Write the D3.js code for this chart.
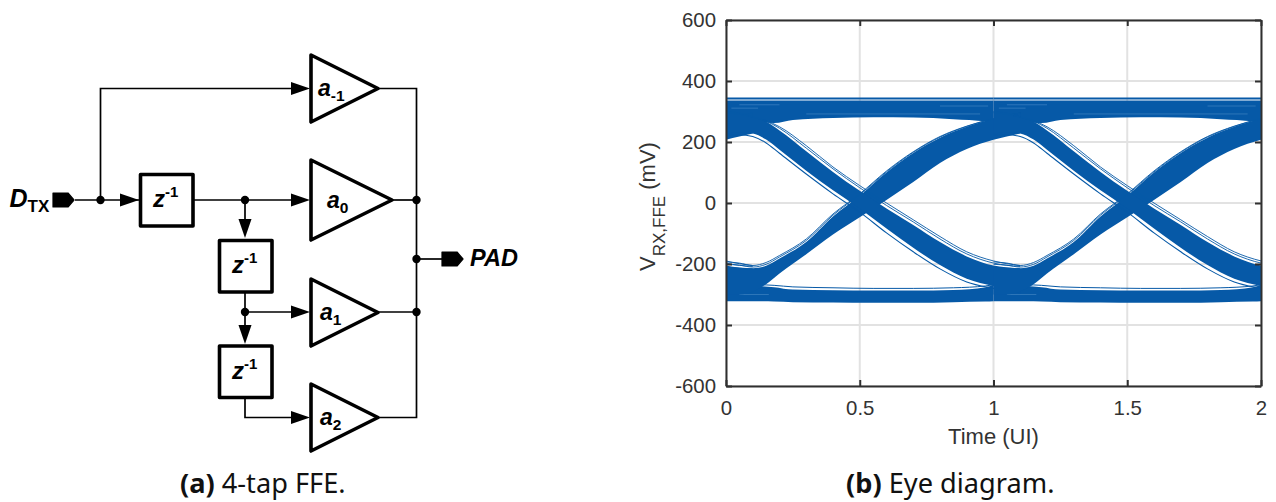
<!DOCTYPE html>
<html>
<head>
<meta charset="utf-8">
<script src="https://cdn.jsdelivr.net/npm/d3@7"></script>
<style>
  html, body { margin: 0; padding: 0; background: #fff; }
  svg { display: block; }
  .caption { font-family: "Noto Sans", "Open Sans", sans-serif; font-size: 27.2px; fill: #111; }
  .sch { font-family: "Liberation Sans", Arial, sans-serif; font-weight: bold; font-style: italic; fill: #000; }
  .tick text, .axlabel { font-family: "Liberation Sans", Arial, sans-serif; fill: #333; }
</style>
</head>
<body>
<div id="chart"></div>
<script>
// eye diagram values (mV)
const xTicks = [0, 0.5, 1, 1.5, 2];
const yTicks = [-600, -400, -200, 0, 200, 400, 600];
const uiOffsets = [-1, 0, 1];

// time grid for the rising and falling bundles (UI)
const edgeTime = [0, 0.05, 0.1, 0.15, 0.2, 0.3, 0.4, 0.5, 0.6, 0.7, 0.8, 0.9, 1.0, 1.1];

const riseBandTop = [-210, -212, -214, -206, -182, -128, -44, 24, 100, 164, 214, 250, 276, 295];
const riseBandBottom = [-300, -300, -290, -266, -231, -168, -103, -47, 10, 69, 131, 177, 207, 228];
const riseOuter = [-193, -197, -205, -195, -172, -118, -36, 30, 105, 168, 218, 252, 277, 295];
const riseMid = [-201, -204, -210, -201, -177, -123, -40, 27, 102, 166, 216, 251, 276, 295];

const fallBandTop = [300, 295, 280, 266, 238, 170, 102, 40, -18, -72, -128, -175, -205, -214];
const fallBandBottom = [228, 232, 228, 208, 175, 106, 42, -18, -84, -147, -203, -248, -272, -290];
const fallOuter = [300, 295, 282, 270, 250, 188, 118, 57, 0, -55, -110, -160, -190, -205];
const fallMid = [296, 291, 281, 268, 245, 180, 112, 50, -8, -62, -118, -167, -197, -208];
const fallInner = [222, 224, 218, 197, 163, 95, 30, -30, -98, -160, -216, -259, -280, -295];

// the two flat rails
const railTime = [0, 0.12, 0.18, 0.25, 0.4, 0.55, 0.7, 0.85, 0.97, 1.0];
const topRailUpper = [336, 336, 336, 336, 336, 336, 336, 336, 336, 336];
const topRailLower = [265, 265, 262, 272, 279, 281, 280, 275, 268, 265];
const topRailLine = [343, 343, 343, 343, 343, 343, 343, 343, 343, 343];
const botRailUpper = [-268, -272, -276, -284, -286, -287, -287, -285, -276, -268];
const botRailLower = [-322, -322, -323, -325, -326, -327, -327, -325, -323, -322];
const botRailLine = [-268, -268, -270, -275, -278, -280, -280, -278, -272, -268];

// pale gaps inside the rails: start, end, level
const railGapStart = [0.02, 0.3, 0.05, 0.8, 0.05];
const railGapEnd = [0.12, 0.95, 0.2, 0.98, 0.16];
const railGapLevel = [311, 292, 322, 318, -300];

// schematic parts
const delayLabels = ["z", "z", "z"];
const tapLabels = ["a", "a", "a", "a"];
const tapSubs = ["-1", "0", "1", "2"];

const WIDTH = 1276, HEIGHT = 502;
const PLOT = { left: 726, right: 1261, top: 20, bottom: 386 };
const BLUE = "#0659a7";

const svg = d3.select("#chart").append("svg")
  .attr("width", WIDTH)
  .attr("height", HEIGHT);

const xScale = d3.scaleLinear().domain([0, 2]).range([PLOT.left, PLOT.right]);
const yScale = d3.scaleLinear().domain([-600, 600]).range([PLOT.bottom, PLOT.top]);

function buildEye() {
  svg.append("clipPath").attr("id", "plotclip").append("rect")
    .attr("x", PLOT.left).attr("y", PLOT.top)
    .attr("width", PLOT.right - PLOT.left).attr("height", PLOT.bottom - PLOT.top);

  // grid
  const grid = svg.append("g").attr("stroke", "#e2e2e2").attr("stroke-width", 2);
  grid.selectAll("line.gx").data(xTicks).enter().append("line")
    .attr("x1", d => xScale(d)).attr("x2", d => xScale(d))
    .attr("y1", PLOT.top).attr("y2", PLOT.bottom);
  grid.selectAll("line.gy").data(yTicks).enter().append("line")
    .attr("y1", d => yScale(d)).attr("y2", d => yScale(d))
    .attr("x1", PLOT.left).attr("x2", PLOT.right);

  const traces = svg.append("g").attr("clip-path", "url(#plotclip)");

  function addBand(times, upper, lower, offset) {
    const area = d3.area()
      .x(i => xScale(times[i] + offset))
      .y0(i => yScale(lower[i]))
      .y1(i => yScale(upper[i]))
      .curve(d3.curveMonotoneX);
    traces.append("path").attr("d", area(d3.range(times.length))).attr("fill", BLUE);
  }
  function addTrace(times, values, offset, width) {
    const line = d3.line()
      .x(i => xScale(times[i] + offset))
      .y(i => yScale(values[i]))
      .curve(d3.curveMonotoneX);
    traces.append("path").attr("d", line(d3.range(times.length)))
      .attr("fill", "none").attr("stroke", BLUE).attr("stroke-width", width);
  }

  uiOffsets.forEach(off => {
    addBand(railTime, topRailUpper, topRailLower, off);
    addBand(railTime, botRailUpper, botRailLower, off);
    addTrace(railTime, topRailLine, off, 2);
    addTrace(railTime, botRailLine, off, 1);
    railGapLevel.forEach((v, i) => {
      traces.append("line")
        .attr("x1", xScale(railGapStart[i] + off)).attr("x2", xScale(railGapEnd[i] + off))
        .attr("y1", yScale(v)).attr("y2", yScale(v))
        .attr("stroke", "#3f82c2").attr("stroke-width", 0.7);
    });
  });
  uiOffsets.forEach(off => {
    addBand(edgeTime, riseBandTop, riseBandBottom, off);
    addBand(edgeTime, fallBandTop, fallBandBottom, off);
    addTrace(edgeTime, riseOuter, off, 0.9);
    addTrace(edgeTime, riseMid, off, 0.9);
    addTrace(edgeTime, fallOuter, off, 0.9);
    addTrace(edgeTime, fallMid, off, 0.9);
    addTrace(edgeTime, fallInner, off, 1.1);
  });

  // axes, ticks point inwards on all four sides
  const fmt = d => String(d);
  const axes = [
    { gen: d3.axisBottom(xScale).tickValues(xTicks).tickFormat(fmt).tickPadding(15), x: 0, y: PLOT.bottom },
    { gen: d3.axisTop(xScale).tickValues(xTicks).tickFormat(""), x: 0, y: PLOT.top },
    { gen: d3.axisLeft(yScale).tickValues(yTicks).tickFormat(fmt).tickPadding(10), x: PLOT.left, y: 0 },
    { gen: d3.axisRight(yScale).tickValues(yTicks).tickFormat(""), x: PLOT.right, y: 0 }
  ];
  axes.forEach(a => {
    const g = svg.append("g")
      .attr("transform", "translate(" + a.x + "," + a.y + ")")
      .call(a.gen.tickSizeInner(-6).tickSizeOuter(0));
    g.selectAll("path, line").attr("stroke", "#303030").attr("stroke-width", 2);
    g.selectAll("text").attr("font-size", 20.4).attr("fill", "#333");
  });

  svg.append("text").attr("class", "axlabel")
    .attr("x", (PLOT.left + PLOT.right) / 2).attr("y", 444)
    .attr("text-anchor", "middle").attr("font-size", 22)
    .text("Time (UI)");

  const yl = svg.append("text").attr("class", "axlabel")
    .attr("transform", "translate(655,271) rotate(-90)")
    .attr("font-size", 22);
  yl.append("tspan").text("V");
  yl.append("tspan").attr("dy", 10).attr("font-size", 17).text("RX,FFE");
  yl.append("tspan").attr("dy", -10).text(" (mV)");
}

function buildSchematic() {
  const wires = [
    [[75, 200], [291, 200]],
    [[100.5, 200], [100.5, 88.5], [295, 88.5]],
    [[245, 200], [245, 222]],
    [[245, 293], [245, 328]],
    [[245, 312], [295, 312]],
    [[245, 398], [245, 417.5], [295, 417.5]],
    [[378, 88.5], [416.5, 88.5], [416.5, 417.5], [378, 417.5]],
    [[392, 200], [416.5, 200]],
    [[378, 312], [416.5, 312]],
    [[416.5, 259], [445, 259]]
  ];
  const wire = d3.line();
  svg.append("g").selectAll("path").data(wires).enter().append("path")
    .attr("d", d => wire(d))
    .attr("fill", "none").attr("stroke", "#000").attr("stroke-width", 1.7);

  const dots = [[100.5, 200], [245, 200], [245, 312], [416.5, 200], [416.5, 259], [416.5, 312]];
  svg.append("g").selectAll("circle").data(dots).enter().append("circle")
    .attr("cx", d => d[0]).attr("cy", d => d[1]).attr("r", 4.2).attr("fill", "#000");

  // arrow heads: tip x, tip y, direction
  const heads = [
    [139, 200, "r"], [310, 88.5, "r"], [310, 200, "r"], [310, 312, "r"], [310, 417.5, "r"],
    [245, 238, "d"], [245, 344, "d"]
  ];
  svg.append("g").selectAll("path").data(heads).enter().append("path")
    .attr("d", d => d[2] === "r"
      ? wire([[d[0], d[1]], [d[0] - 19, d[1] - 6.5], [d[0] - 19, d[1] + 6.5]]) + "Z"
      : wire([[d[0], d[1]], [d[0] - 6.5, d[1] - 19], [d[0] + 6.5, d[1] - 19]]) + "Z")
    .attr("fill", "#000");

  // delay boxes
  const boxes = [[139, 173], [218, 239], [218, 344.5]];
  const bx = svg.append("g").selectAll("g").data(boxes).enter().append("g")
    .attr("transform", d => "translate(" + d[0] + "," + d[1] + ")");
  bx.append("rect").attr("x", 1.5).attr("y", 1.5).attr("width", 52.5).attr("height", 51.5)
    .attr("fill", "#fff").attr("stroke", "#000").attr("stroke-width", 3.6).attr("stroke-linejoin", "round");
  bx.each(function (d, i) {
    const t = d3.select(this).append("text").attr("class", "sch").attr("x", 14).attr("y", 34).attr("font-size", 24);
    t.append("tspan").text(delayLabels[i]);
    t.append("tspan").attr("dy", -10).attr("font-size", 15).attr("font-style", "normal").text("-1");
  });

  // amplifiers: left x, top y, bottom y, tip x
  const amps = [[311, 55, 122, 378], [311, 160, 240, 392], [311, 279, 346, 378], [311, 384, 451, 378]];
  svg.append("g").selectAll("path").data(amps).enter().append("path")
    .attr("d", d => wire([[d[0], d[1]], [d[3], (d[1] + d[2]) / 2], [d[0], d[2]]]) + "Z")
    .attr("fill", "#fff").attr("stroke", "#000").attr("stroke-width", 3.6).attr("stroke-linejoin", "round");

  const labelPos = [[318, 96], [327, 208], [320, 320], [320, 425]];
  labelPos.forEach((p, i) => {
    const t = svg.append("text").attr("class", "sch").attr("x", p[0]).attr("y", p[1]).attr("font-size", 23);
    t.append("tspan").text(tapLabels[i]);
    t.append("tspan").attr("dy", 5).attr("font-size", 15.5).attr("font-style", "normal").text(tapSubs[i]);
  });

  // port tags
  const tags = [[53, 200], [442, 259]];
  svg.append("g").selectAll("path").data(tags).enter().append("path")
    .attr("d", d => wire([[d[0], d[1] - 7], [d[0] + 15, d[1] - 7], [d[0] + 21, d[1]], [d[0] + 15, d[1] + 7], [d[0], d[1] + 7]]) + "Z")
    .attr("fill", "#000").attr("stroke", "#000").attr("stroke-width", 1.2).attr("stroke-linejoin", "round");

  const dtx = svg.append("text").attr("class", "sch").attr("x", 9.5).attr("y", 207).attr("font-size", 25);
  dtx.append("tspan").text("D");
  dtx.append("tspan").attr("dy", 5).attr("font-size", 17).attr("font-style", "normal").text("TX");
  svg.append("text").attr("class", "sch").attr("x", 470).attr("y", 266).attr("font-size", 23.5).text("PAD");
}

function buildCaptions() {
  const caps = [
    { x: 180, bold: "(a)", rest: " 4-tap FFE." },
    { x: 846, bold: "(b)", rest: " Eye diagram." }
  ];
  caps.forEach(c => {
    const t = svg.append("text").attr("class", "caption").attr("x", c.x).attr("y", 493);
    t.append("tspan").attr("font-weight", "bold").text(c.bold);
    t.append("tspan").text(c.rest);
  });
}

buildEye();
buildSchematic();
buildCaptions();
</script>
</body>
</html>
